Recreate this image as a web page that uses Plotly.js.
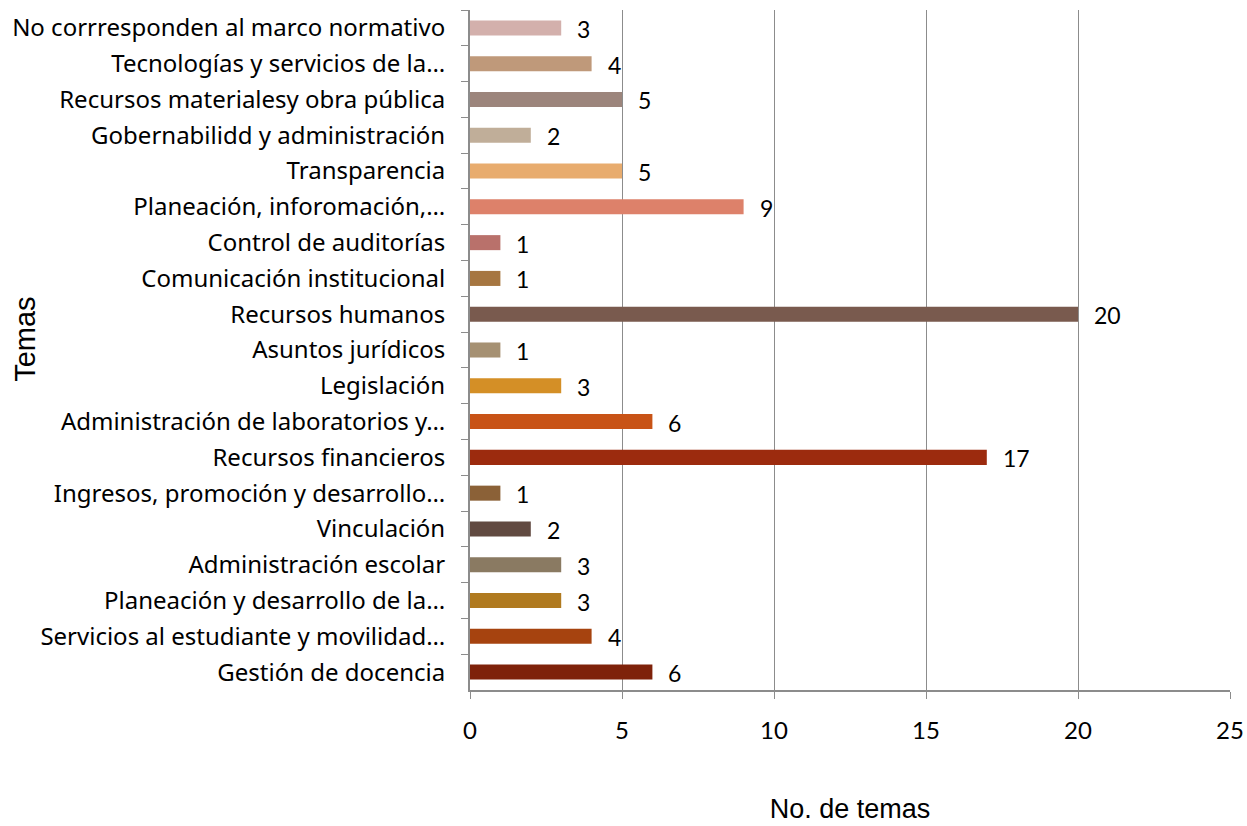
<!DOCTYPE html>
<html>
<head>
<meta charset="utf-8">
<script src="https://cdn.plot.ly/plotly-3.0.1.min.js"></script>
<style>html,body{margin:0;padding:0;background:#fff;}#chart{width:1247px;height:826px;}</style>
</head>
<body>
<div id="chart"></div>
<script>
const categories = [
  "No corrresponden al marco normativo",
  "Tecnologías y servicios de la…",
  "Recursos materialesy obra pública",
  "Gobernabilidd y administración",
  "Transparencia",
  "Planeación, inforomación,…",
  "Control de auditorías",
  "Comunicación institucional",
  "Recursos humanos",
  "Asuntos jurídicos",
  "Legislación",
  "Administración de laboratorios y…",
  "Recursos financieros",
  "Ingresos, promoción y desarrollo…",
  "Vinculación",
  "Administración escolar",
  "Planeación y desarrollo de la…",
  "Servicios al estudiante y movilidad…",
  "Gestión de docencia"
];
const values = [3, 4, 5, 2, 5, 9, 1, 1, 20, 1, 3, 6, 17, 1, 2, 3, 3, 4, 6];
const barColors = [
  "#D3B0AC", "#BF997A", "#9C857C", "#C0AE99", "#E8AC6E", "#DD816A",
  "#B9716B", "#A67641", "#795A4E", "#A69173", "#D48F26", "#C85316",
  "#9C2B0E", "#8B6137", "#614A41", "#8A7A62", "#B07A1F", "#A6430F", "#7E220A"
];
const xTicks = [0, 5, 10, 15, 20, 25];

const trace = {
  type: "bar",
  orientation: "h",
  x: values,
  y: categories,
  width: 0.42,
  marker: {color: barColors},
  hoverinfo: "none"
};

const annotations = values.map((v, i) => ({
  x: v, y: categories[i], xref: "x", yref: "y",
  text: String(v), showarrow: false, xanchor: "left", yanchor: "middle",
  xshift: 14, yshift: -1, font: {family: "Lato, 'Open Sans', sans-serif", size: 23, color: "#000"}
}));
annotations.push({
  text: "Temas", xref: "paper", yref: "paper", x: -0.5855, y: 0.515,
  textangle: -90, showarrow: false, xanchor: "center", yanchor: "middle",
  font: {family: "'Liberation Sans', Arial, sans-serif", size: 29, color: "#000"}
});

const layout = {
  width: 1247, height: 826,
  margin: {l: 470, r: 17, t: 10, b: 136},
  paper_bgcolor: "#fff", plot_bgcolor: "#fff",
  showlegend: false,
  xaxis: {
    range: [0, 25],
    tickvals: xTicks,
    ticktext: xTicks.map(String),
    showgrid: true, gridcolor: "#8c8c8c", gridwidth: 1,
    zeroline: false,
    showline: true, linecolor: "#8c8c8c", linewidth: 2,
    ticks: "outside", ticklen: 7, tickcolor: "#8c8c8c", tickwidth: 1,
    ticklabelstandoff: 11,
    tickfont: {family: "Lato, 'Open Sans', sans-serif", size: 24, color: "#000"},
    title: {text: "No. de temas", standoff: 56, font: {family: "'Liberation Sans', Arial, sans-serif", size: 27, color: "#000"}},
    fixedrange: true
  },
  yaxis: {
    autorange: "reversed",
    type: "category",
    showgrid: false, zeroline: false,
    showline: true, linecolor: "#8c8c8c", linewidth: 2,
    ticks: "outside", tickson: "boundaries", ticklen: 7, tickcolor: "#8c8c8c", tickwidth: 1,
    ticklabelstandoff: 18,
    tickfont: {family: "'Noto Sans', Lato, sans-serif", size: 24, color: "#000"},
    automargin: false,
    fixedrange: true
  },
  annotations: annotations
};

Plotly.newPlot("chart", [trace], layout, {displayModeBar: false, staticPlot: true});
</script>
</body>
</html>
